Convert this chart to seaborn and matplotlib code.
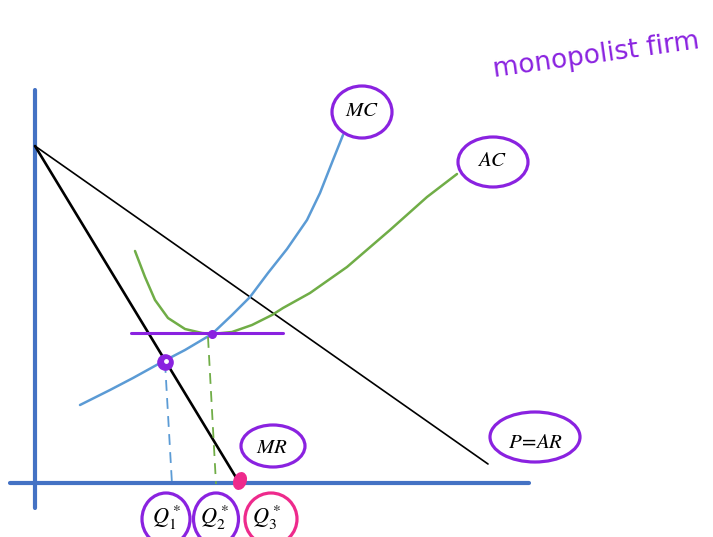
import numpy as np
import pandas as pd
import matplotlib
matplotlib.use("Agg")
import matplotlib.pyplot as plt
import seaborn as sns
from matplotlib.patches import Ellipse

# values (quantity to the right, price upward, origin at the axes corner)
mc_q = [45, 75, 98, 127, 150, 177, 197, 215, 233, 252, 272, 285, 298, 308]
mc_p = [79, 94, 106, 122, 134, 150, 169, 187, 211, 235, 264, 291, 324, 349]

ac_q = [100, 110, 120, 133, 150, 167, 177, 197, 217, 237, 248, 275, 312, 355, 392, 422]
ac_p = [233, 207, 184, 166, 155, 151, 150, 152, 159, 169, 176, 191, 217, 254, 287, 310]

demand_q = [0, 453]
demand_p = [338, 20]

mr_q = [0, 205]
mr_p = [338, 0]

q1_q = [130, 137]
q1_p = [122, 0]
q2_q = [173, 181]
q2_p = [147, 0]

min_ac_q = [96, 248]
min_ac_p = [151, 151]

labels = ["$MC$", "$AC$", "$P\\!=\\!AR$", "$MR$", "$Q_1^*$", "$Q_2^*$", "$Q_3^*$"]
title_txt = "monopolist firm"

PURPLE = "#8a22e0"
PINK = "#ee2a8c"

sns.set_style("white")
plt.rcParams["mathtext.fontset"] = "stix"

fig = plt.figure(figsize=(7.13, 5.37), dpi=100)
ax = fig.add_axes([0, 0, 1, 1])
ax.set_xlim(-35, 678)
ax.set_ylim(-53, 484)
ax.axis("off")

# axes of the diagram
sns.lineplot(x=[0, 0], y=[-24, 394], color="#4472c4", linewidth=3, estimator=None, sort=False, ax=ax)
sns.lineplot(x=[-25, 494], y=[1, 1], color="#4472c4", linewidth=3, estimator=None, sort=False, ax=ax)

# curves
sns.lineplot(x=demand_q, y=demand_p, color="black", linewidth=1.2, estimator=None, sort=False, ax=ax)
sns.lineplot(x=mr_q, y=mr_p, color="black", linewidth=1.9, estimator=None, sort=False, ax=ax)
sns.lineplot(x=mc_q, y=mc_p, color="#5b9bd5", linewidth=1.8, estimator=None, sort=False, ax=ax)
sns.lineplot(x=ac_q, y=ac_p, color="#70ad47", linewidth=1.8, estimator=None, sort=False, ax=ax)

ax.plot(q1_q, q1_p, color="#5b9bd5", linewidth=1.3, dashes=(6, 4))
ax.plot(q2_q, q2_p, color="#70ad47", linewidth=1.3, dashes=(6, 4))

sns.lineplot(x=min_ac_q, y=min_ac_p, color=PURPLE, linewidth=2.2, estimator=None, sort=False, ax=ax)

# marks
ax.scatter([q1_q[0]], [q1_p[0]], s=120, color=PURPLE, zorder=5)
ax.scatter([q1_q[0] + 1], [q1_p[0] + 1], s=6, color="white", zorder=6)
ax.scatter([ac_q[6]], [ac_p[6]], s=30, color=PURPLE, zorder=5)
ax.add_patch(Ellipse((mr_q[1], mr_p[1] + 3), 12, 17, angle=-20, color=PINK, zorder=5))

# circled labels
circles = [
    ((327, 372), 60, 52, PURPLE),
    ((458, 322), 70, 50, PURPLE),
    ((500, 47), 90, 50, PURPLE),
    ((238, 38), 64, 42, PURPLE),
    ((131, -35), 48, 52, PURPLE),
    ((181, -35), 45, 52, PURPLE),
    ((236, -35), 52, 52, PINK),
]
text_pos = [(327, 374), (457, 324), (501, 42), (237, 37), (132, -34), (180, -34), (232, -34)]
sizes = [15, 15, 15, 15, 16, 16, 16]
for (c, w, h, col), lab, pos, fs in zip(circles, labels, text_pos, sizes):
    ax.add_patch(Ellipse(c, w, h, fill=False, edgecolor=col, linewidth=2.3, zorder=4))
    ax.text(pos[0], pos[1], lab, fontsize=fs, ha="center", va="center", color="black")

ax.text(561, 428, title_txt, fontsize=19, color=PURPLE, rotation=8,
        ha="center", va="center", family="DejaVu Sans")

fig.savefig("out.png", dpi=100)
